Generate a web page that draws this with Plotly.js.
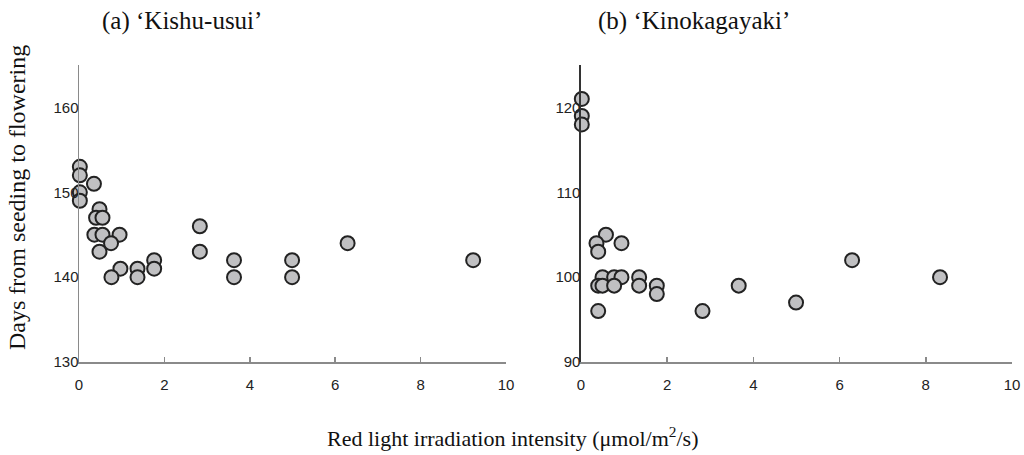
<!DOCTYPE html>
<html>
<head>
<meta charset="utf-8">
<script src="https://cdn.plot.ly/plotly-3.0.1.min.js"></script>
<style>html,body{margin:0;padding:0;background:#fff;}#chart{width:1024px;height:455px;}</style>
</head>
<body>
<div id="chart"></div>
<script>
// Panel (a) 'Kishu-usui'
var kishuX = [0.02, 0.02, 0.35, 0.02, 0.02, 0.48, 0.40, 0.55, 0.36, 0.55, 0.95, 0.75, 0.48, 0.97, 0.76, 1.37, 1.37, 1.76, 1.76, 2.83, 2.83, 3.63, 3.63, 4.99, 4.99, 6.29, 9.23];
var kishuY = [153, 152, 151, 150, 149, 148, 147, 147, 145, 145, 145, 144, 143, 141, 140, 141, 140, 142, 141, 146, 143, 142, 140, 142, 140, 144, 142];
// Panel (b) 'Kinokagayaki'
var kinoX = [0.02, 0.02, 0.02, 0.58, 0.36, 0.94, 0.40, 0.50, 0.77, 0.94, 1.35, 0.40, 0.50, 0.77, 1.35, 1.76, 1.76, 0.40, 2.82, 3.66, 4.99, 6.29, 8.33];
var kinoY = [121, 119, 118, 105, 104, 104, 103, 100, 100, 100, 100, 99, 99, 99, 99, 99, 98, 96, 96, 99, 97, 102, 100];

var xTicks = [0, 2, 4, 6, 8, 10];
var yTicksA = [130, 140, 150, 160];
var yTicksB = [90, 100, 110, 120];

var panelTitles = ["(a) \u2018Kishu-usui\u2019", "(b) \u2018Kinokagayaki\u2019"];
var yTitle = "Days from seeding to flowering";
var xTitle = "Red light irradiation intensity (\u03bcmol/m<sup>2</sup>/s)";

var marker = {size: 14, color: '#c0c0c2', line: {color: '#222', width: 2}};

var traces = [
  {x: kishuX, y: kishuY, type: 'scatter', mode: 'markers', marker: marker, xaxis: 'x', yaxis: 'y', cliponaxis: false, hoverinfo: 'x+y'},
  {x: kinoX, y: kinoY, type: 'scatter', mode: 'markers', marker: marker, xaxis: 'x2', yaxis: 'y2', cliponaxis: false, hoverinfo: 'x+y'}
];

var tickFont = {family: 'Liberation Sans, Arial, sans-serif', size: 15, color: '#222'};
function xAxis(domain, anchor) {
  return {domain: domain, anchor: anchor, range: [0, 10], tickvals: xTicks, ticktext: xTicks.map(String),
    showline: true, linecolor: '#8a8a8a', linewidth: 1.5, ticks: 'inside', ticklen: 5, tickcolor: '#8a8a8a', tickwidth: 1.5,
    showgrid: false, zeroline: false, tickfont: tickFont, ticklabelstandoff: 8};
}
function yAxis(range, vals, anchor, lc) {
  return {domain: [0, 1], anchor: anchor, range: range, tickvals: vals, ticktext: vals.map(String),
    showline: true, linecolor: lc, linewidth: 1.5, ticks: '', showgrid: false, zeroline: false,
    tickfont: tickFont, ticklabelstandoff: -4};
}

var serif = 'Liberation Serif, Times New Roman, serif';
var layout = {
  width: 1024, height: 455,
  margin: {l: 79, r: 12, t: 65, b: 93},
  paper_bgcolor: '#fff', plot_bgcolor: '#fff',
  showlegend: false,
  xaxis: xAxis([0, 0.4577], 'y'),
  yaxis: yAxis([130, 165], yTicksA, 'x', '#8a8a8a'),
  xaxis2: xAxis([0.538, 1], 'y2'),
  yaxis2: yAxis([90, 125], yTicksB, 'x2', '#333'),
  annotations: [
    {text: panelTitles[0], xref: 'paper', yref: 'paper', x: (182-79)/933, y: 1 + (65-21)/297, xanchor: 'center', yanchor: 'middle', showarrow: false,
     font: {family: serif, size: 25, color: '#111'}},
    {text: panelTitles[1], xref: 'paper', yref: 'paper', x: (694-79)/933, y: 1 + (65-21)/297, xanchor: 'center', yanchor: 'middle', showarrow: false,
     font: {family: serif, size: 25, color: '#111'}},
    {text: yTitle, xref: 'paper', yref: 'paper', x: (17-79)/933, y: 1 - (198-65)/297, xanchor: 'center', yanchor: 'middle', textangle: -90, showarrow: false,
     font: {family: serif, size: 24, color: '#111'}},
    {text: xTitle, xref: 'paper', yref: 'paper', x: (512-79)/933, y: -(437-362)/297, xanchor: 'center', yanchor: 'middle', showarrow: false,
     font: {family: serif, size: 22, color: '#111'}}
  ]
};

Plotly.newPlot('chart', traces, layout, {displayModeBar: false, staticPlot: true});
</script>
</body>
</html>
